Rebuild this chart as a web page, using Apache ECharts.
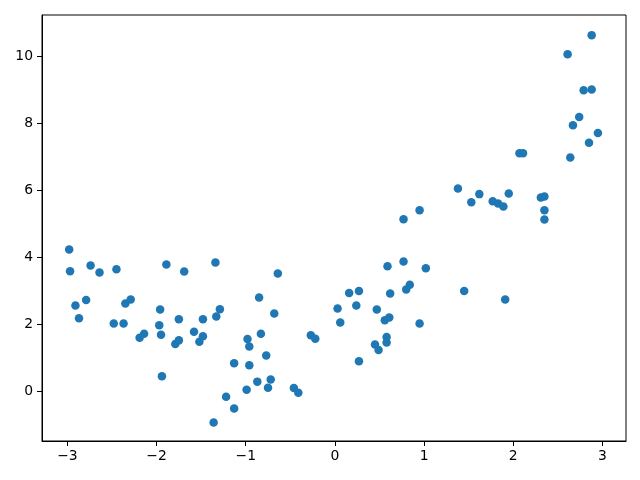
<!DOCTYPE html>
<html>
<head>
<meta charset="utf-8">
<script src="https://cdn.jsdelivr.net/npm/echarts@6/dist/echarts.min.js"></script>
<style>html,body{margin:0;padding:0;background:#fff;}#c{width:640px;height:480px;}</style>
</head>
<body>
<div id="c"></div>
<script>
var xValues = [-2.98,-2.97,-2.74,-2.64,-2.45,-2.91,-2.79,-2.87,-2.48,-2.37,-2.35,-2.29,-2.19,-2.14,
  -1.89,-1.69,-1.34,-1.96,-1.97,-1.95,-1.94,-1.75,-1.79,-1.75,-1.58,-1.52,-1.48,-1.48,-1.33,-1.29,
  -1.13,-1.22,-1.13,-1.36,
  -0.64,-0.85,-0.68,-0.83,-0.98,-0.96,-0.77,-0.96,-0.72,-0.75,-0.87,-0.99,-0.46,-0.41,-0.27,-0.22,
  0.03,0.06,0.16,0.27,0.24,0.27,
  0.59,0.62,0.47,0.56,0.61,0.58,0.58,0.45,0.49,
  0.77,1.02,0.80,0.84,0.95,1.45,1.91,
  0.77,0.95,1.38,1.53,1.62,1.77,1.83,1.89,1.95,
  2.07,2.11,2.31,2.35,2.35,2.35,
  2.64,2.85,2.88,2.61,2.79,2.88,2.74,2.67,2.95];
var yValues = [4.23,3.58,3.75,3.54,3.64,2.56,2.72,2.18,2.02,2.02,2.62,2.74,1.60,1.72,
  3.78,3.57,3.84,2.44,1.97,1.69,0.45,2.15,1.41,1.52,1.78,1.48,1.64,2.15,2.23,2.45,
  0.84,-0.16,-0.51,-0.93,
  3.51,2.80,2.32,1.72,1.56,1.34,1.07,0.78,0.35,0.11,0.29,0.05,0.10,-0.04,1.67,1.57,
  2.47,2.05,2.93,2.99,2.56,0.90,
  3.73,2.92,2.44,2.12,2.20,1.62,1.46,1.40,1.23,
  3.87,3.67,3.04,3.18,2.02,2.99,2.74,
  5.13,5.40,6.05,5.64,5.88,5.67,5.60,5.51,5.90,
  7.10,7.10,5.78,5.81,5.40,5.12,
  6.97,7.41,10.62,10.05,8.98,9.00,8.18,7.93,7.70];
var xTicks = [-3,-2,-1,0,1,2,3];
var yTicks = [0,2,4,6,8,10];

var points = xValues.map(function(x,i){return [x, yValues[i]];});
function fmt(v){ return String(v).replace('-', '\u2212'); }
var labelFont = {fontFamily:'DejaVu Sans', fontSize:13.9, color:'#000'};

var chart = echarts.init(document.getElementById('c'), null, {renderer:'canvas'});
chart.setOption({
  animation:false,
  backgroundColor:'#fff',
  grid:{left:42, right:14, top:15, bottom:39, show:true, borderColor:'#000', borderWidth:1, backgroundColor:'transparent'},
  xAxis:{
    type:'value', min:-3.285, max:3.265,
    axisLine:{show:true, onZero:false, lineStyle:{color:'#000', width:1}},
    splitLine:{show:false},
    axisTick:{show:true, length:5, customValues:xTicks, lineStyle:{color:'#000', width:1}},
    axisLabel:Object.assign({margin:8, customValues:xTicks, formatter:fmt}, labelFont)
  },
  yAxis:{
    type:'value', min:-1.48, max:11.22,
    axisLine:{show:true, onZero:false, lineStyle:{color:'#000', width:1}},
    splitLine:{show:false},
    axisTick:{show:true, length:5, customValues:yTicks, lineStyle:{color:'#000', width:1}},
    axisLabel:Object.assign({margin:9, customValues:yTicks, formatter:fmt}, labelFont)
  },
  series:[{
    type:'scatter', data:points, symbol:'circle', symbolSize:8.5,
    itemStyle:{color:'#1f77b4', opacity:1}
  }]
});
</script>
</body>
</html>
